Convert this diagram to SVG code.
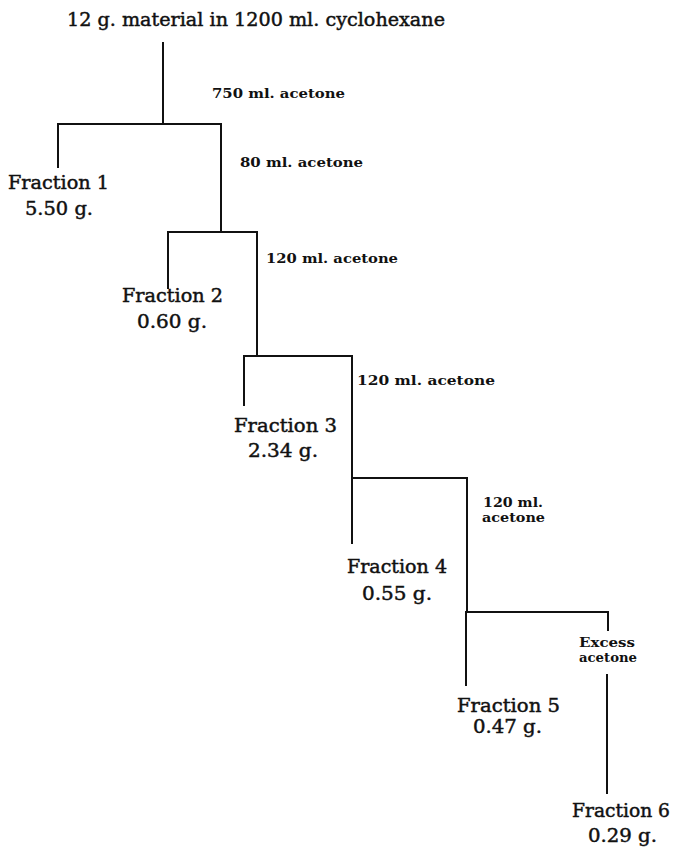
<svg xmlns="http://www.w3.org/2000/svg" width="675" height="848" viewBox="0 0 675 848">
<style>
.n{font-family:"DejaVu Serif","Liberation Serif",serif;font-size:18px;fill:#111;stroke:#111;stroke-width:0.45px;}
.l{font-family:"DejaVu Serif","Liberation Serif",serif;font-size:13px;font-weight:bold;fill:#111;}
.c{stroke:#111;stroke-width:2;fill:none;stroke-linecap:square;}
</style>
<rect width="675" height="848" fill="#fff"/>
<g id="source"><text class="n" x="67" y="26" textLength="378" lengthAdjust="spacingAndGlyphs">12 g. material in 1200 ml. cyclohexane</text></g>
<g id="connectors">
<path class="c" d="M163 43V124M58 167V124H221V232M168 288V232H257V356M244 405V356H352V478M352 543V478H467V612M466 685V612H608V630M607 675V793"/>
</g>
<g id="labels">
<text class="l" x="212" y="98" textLength="133" lengthAdjust="spacingAndGlyphs">750 ml. acetone</text>
<text class="l" x="240" y="167" textLength="123" lengthAdjust="spacingAndGlyphs">80 ml. acetone</text>
<text class="l" x="266" y="263" textLength="132" lengthAdjust="spacingAndGlyphs">120 ml. acetone</text>
<text class="l" x="357" y="385" textLength="138" lengthAdjust="spacingAndGlyphs">120 ml. acetone</text>
<text class="l" x="483" y="507" textLength="60" lengthAdjust="spacingAndGlyphs">120 ml.</text>
<text class="l" x="482" y="522" textLength="63" lengthAdjust="spacingAndGlyphs">acetone</text>
<text class="l" x="579" y="647" textLength="56" lengthAdjust="spacingAndGlyphs">Excess</text>
<text class="l" x="579" y="662" textLength="58" lengthAdjust="spacingAndGlyphs">acetone</text>
</g>
<g id="fraction1"><text class="n" x="8" y="189" textLength="101" lengthAdjust="spacingAndGlyphs">Fraction 1</text><text class="n" x="25" y="215" textLength="68" lengthAdjust="spacingAndGlyphs">5.50 g.</text></g>
<g id="fraction2"><text class="n" x="122" y="302" textLength="101" lengthAdjust="spacingAndGlyphs">Fraction 2</text><text class="n" x="137" y="328" textLength="70" lengthAdjust="spacingAndGlyphs">0.60 g.</text></g>
<g id="fraction3"><text class="n" x="234" y="432" textLength="103" lengthAdjust="spacingAndGlyphs">Fraction 3</text><text class="n" x="248" y="457" textLength="70" lengthAdjust="spacingAndGlyphs">2.34 g.</text></g>
<g id="fraction4"><text class="n" x="347" y="573" textLength="100" lengthAdjust="spacingAndGlyphs">Fraction 4</text><text class="n" x="362" y="600" textLength="70" lengthAdjust="spacingAndGlyphs">0.55 g.</text></g>
<g id="fraction5"><text class="n" x="457" y="712" textLength="103" lengthAdjust="spacingAndGlyphs">Fraction 5</text><text class="n" x="473" y="733" textLength="69" lengthAdjust="spacingAndGlyphs">0.47 g.</text></g>
<g id="fraction6"><text class="n" x="572" y="817" textLength="98" lengthAdjust="spacingAndGlyphs">Fraction 6</text><text class="n" x="588" y="842" textLength="69" lengthAdjust="spacingAndGlyphs">0.29 g.</text></g>
</svg>
